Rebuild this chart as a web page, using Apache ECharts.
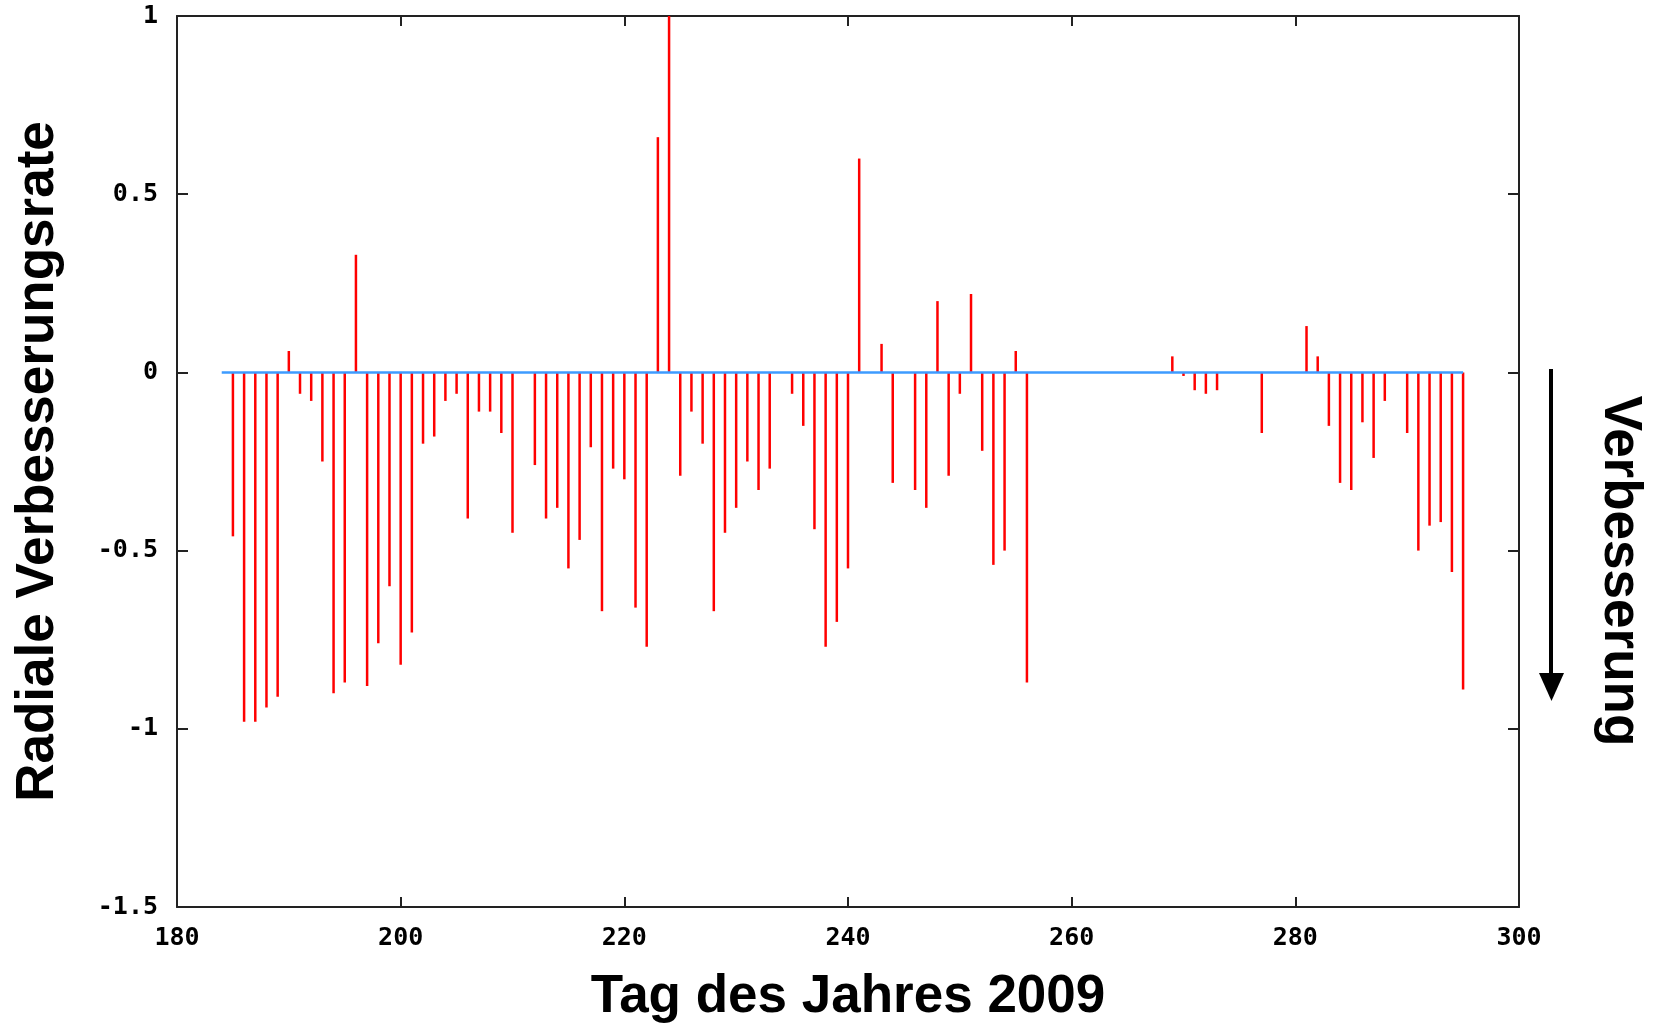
<!DOCTYPE html>
<html>
<head>
<meta charset="utf-8">
<script src="https://cdn.jsdelivr.net/npm/echarts@6/dist/echarts.min.js"></script>
<style>
  html, body { margin:0; padding:0; background:#fff; }
  #chart { width:1656px; height:1029px; }
</style>
</head>
<body>
<div id="chart"></div>
<script>
// day of year 2009 and radial improvement rate
const days = [185,186,187,188,189,190,191,192,193,194,195,196,197,198,199,200,201,202,203,204,205,206,207,208,209,210,
  212,213,214,215,216,217,218,219,220,221,222,223,224,225,226,227,228,229,230,231,232,233,
  235,236,237,238,239,240,241,243,244,246,247,248,249,250,251,252,253,254,255,256,
  269,270,271,272,273,277,281,282,283,284,285,286,287,288,290,291,292,293,294,295];
const rates = [-0.46,-0.98,-0.98,-0.94,-0.91,0.06,-0.06,-0.08,-0.25,-0.90,-0.87,0.33,-0.88,-0.76,-0.60,-0.82,-0.73,-0.20,-0.18,-0.08,-0.06,-0.41,-0.11,-0.11,-0.17,-0.45,
  -0.26,-0.41,-0.38,-0.55,-0.47,-0.21,-0.67,-0.27,-0.30,-0.66,-0.77,0.66,1.0,-0.29,-0.11,-0.20,-0.67,-0.45,-0.38,-0.25,-0.33,-0.27,
  -0.06,-0.15,-0.44,-0.77,-0.70,-0.55,0.60,0.08,-0.31,-0.33,-0.38,0.20,-0.29,-0.06,0.22,-0.22,-0.54,-0.50,0.06,-0.87,
  0.045,-0.01,-0.05,-0.06,-0.05,-0.17,0.13,0.045,-0.15,-0.31,-0.33,-0.14,-0.24,-0.08,-0.17,-0.50,-0.43,-0.42,-0.56,-0.89];
const zeroLine = [[184,0],[295,0]];
const xTitle = 'Tag des Jahres 2009';
const yTitle = 'Radiale Verbesserungsrate';
const arrowLabel = 'Verbesserung';

const titleFont = {fontFamily:'Liberation Sans, Arial, sans-serif', fontWeight:'bold', fontSize:53, color:'#000'};
const tickFont = {fontFamily:'DejaVu Sans Mono, monospace', fontWeight:'bold', fontSize:25, color:'#000'};
const frame = {show:true, onZero:false, lineStyle:{color:'#222', width:2}};

const chart = echarts.init(document.getElementById('chart'));
chart.setOption({
  animation:false,
  backgroundColor:'#fff',
  grid:{left:177, top:16, right:137, bottom:121, containLabel:false},
  xAxis:[
    {type:'value', min:180, max:300, interval:20, position:'bottom',
     axisLine:frame,
     axisTick:{show:true, inside:true, length:10, lineStyle:{color:'#222', width:2}},
     axisLabel:Object.assign({margin:19}, tickFont),
     splitLine:{show:false},
     name:xTitle, nameLocation:'middle', nameGap:64, nameTextStyle:titleFont},
    {type:'value', min:180, max:300, interval:20, position:'top',
     axisLine:frame,
     axisTick:{show:true, inside:true, length:10, lineStyle:{color:'#222', width:2}},
     axisLabel:{show:false}, splitLine:{show:false}}
  ],
  yAxis:[
    {type:'value', min:-1.5, max:1, interval:0.5, position:'left',
     axisLine:frame,
     axisTick:{show:true, inside:true, length:11, lineStyle:{color:'#222', width:2}},
     axisLabel:Object.assign({margin:19}, tickFont),
     splitLine:{show:false},
     name:yTitle, nameLocation:'middle', nameGap:112, nameRotate:90, nameTextStyle:titleFont},
    {type:'value', min:-1.5, max:1, interval:0.5, position:'right',
     axisLine:frame,
     axisTick:{show:true, inside:true, length:11, lineStyle:{color:'#222', width:2}},
     axisLabel:{show:false}, splitLine:{show:false}}
  ],
  series:[
    {type:'bar', xAxisIndex:0, yAxisIndex:0, barWidth:2.5, itemStyle:{color:'#ff0000'},
     data:days.map((d,i)=>[d, rates[i]]), z:2},
    {type:'line', xAxisIndex:0, yAxisIndex:0, showSymbol:false, symbol:'none',
     lineStyle:{color:'#3d9bff', width:2.5}, data:zeroLine, z:3}
  ],
  graphic:[
    {type:'line', shape:{x1:1551, y1:369, x2:1551, y2:676}, style:{stroke:'#000', lineWidth:4}},
    {type:'polygon', shape:{points:[[1539,673],[1564,673],[1551.5,701]]}, style:{fill:'#000'}},
    {type:'text', x:1620, y:571, rotation:-Math.PI/2,
     style:{text:arrowLabel, font:'bold 53px Liberation Sans, Arial, sans-serif', fill:'#000', align:'center', verticalAlign:'middle'}}
  ]
});
</script>
</body>
</html>
